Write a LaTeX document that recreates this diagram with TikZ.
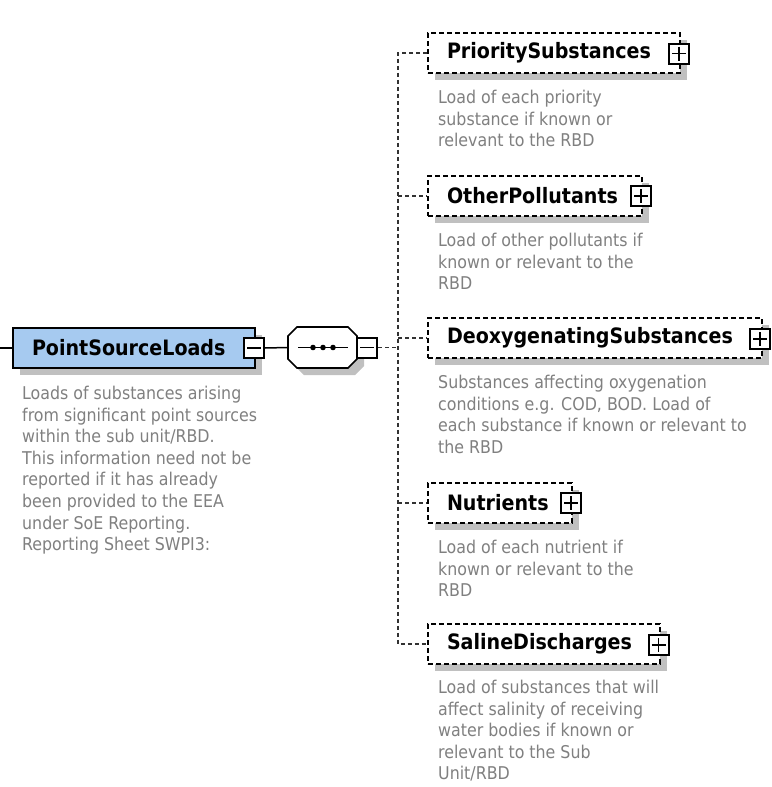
\documentclass[tikz,border=0pt]{standalone}
\usepackage{fontspec}
\newfontfamily\uifont{DejaVu Sans Condensed}
\usetikzlibrary{shadows}
\definecolor{elemblue}{RGB}{166,202,240}
\definecolor{shadowgray}{RGB}{192,192,192}
\definecolor{descgray}{RGB}{128,128,128}
\definecolor{busgray}{RGB}{50,50,50}
\tikzset{
  boxshadow/.style={drop shadow={shadow xshift=7pt,shadow yshift=-7pt,fill=shadowgray,opacity=1}},
  elemtitle/.style={font=\uifont\bfseries\fontsize{21.2}{24}\selectfont, text=black,
    inner xsep=19pt, inner ysep=0pt, minimum height=40pt, align=left},
  mainbox/.style={elemtitle, draw=black, line width=1.6pt, fill=elemblue, boxshadow},
  optbox/.style={elemtitle, draw=black, line width=1.7pt, dash pattern=on 5pt off 3pt,
    fill=white, boxshadow},
  pmbox/.style={draw=black, line width=2pt, solid, fill=white, minimum width=20pt,
    minimum height=20pt, inner sep=0pt},
  minusbox/.style={pmbox, path picture={
    \draw[line width=1.7pt] ([xshift=3pt]path picture bounding box.west) --
      ([xshift=-3pt]path picture bounding box.east);}},
  plusbox/.style={pmbox, path picture={
    \draw[line width=1.7pt] ([xshift=3pt]path picture bounding box.west) --
      ([xshift=-3pt]path picture bounding box.east);
    \draw[line width=1.7pt] ([yshift=-3pt]path picture bounding box.north) --
      ([yshift=3pt]path picture bounding box.south);}},
  seqframe/.style={draw=black, line width=1.6pt, fill=white},
  desc/.style={font=\uifont\fontsize{17.6}{21.6}\selectfont, text=descgray,
    anchor=north west, inner sep=0pt, align=left},
  link/.style={draw=black, line width=1.5pt},
  bus/.style={draw=busgray, line width=1.4pt, dash pattern=on 4pt off 3pt},
}
\begin{document}
\begin{tikzpicture}[x=1pt,y=-1pt]
\useasboundingbox[fill=white] (0,0) rectangle (771,787);

% root element
\coordinate (in) at (0,348);
\node[mainbox, text width=204pt] (psl) at (134,348) {PointSourceLoads};
\node[minusbox] (pslm) at (254,348) {};
\node[desc] (psld) at (22,386) {Loads of substances arising\\from significant point sources\\within the sub unit/RBD.\\This information need not be\\reported if it has already\\been provided to the EEA\\under SoE Reporting.\\Reporting Sheet SWPI3:};

% sequence compositor: octagon with shadow, then the connector mark
\fill[shadowgray, shift={(7,7)}] (297,327) -- (348,327) -- (357,336) -- (357,359)
  -- (348,368) -- (297,368) -- (288,359) -- (288,336) -- cycle;
\path[seqframe] (297,327) -- (348,327) -- (357,336) -- (357,359)
  -- (348,368) -- (297,368) -- (288,359) -- (288,336) -- cycle;
\node[minimum width=69pt, minimum height=41pt, inner sep=0pt] (seq) at (322.5,347.5) {};
\draw[line width=1.5pt] (298,347.5) -- (348,347.5);
\foreach \dx in {313,323,333} \fill (\dx,347.5) circle (2.8);
\node[minusbox] (seqm) at (367,347.5) {};

% child elements (optional)
\node[optbox, text width=214pt] (prio) at (554,53) {PrioritySubstances};
\node[plusbox] (priop) at (679,53.5) {};
\node[desc] (priod) at (438,90) {Load of each priority\\substance if known or\\relevant to the RBD};

\node[optbox, text width=176pt] (oth) at (535,196) {OtherPollutants};
\node[plusbox] (othp) at (641,196) {};
\node[desc] (othd) at (438,233) {Load of other pollutants if\\known or relevant to the\\RBD};

\node[optbox, text width=296pt] (deo) at (595,338) {DeoxygenatingSubstances};
\node[plusbox] (deop) at (760,339) {};
\node[desc] (deod) at (438,375) {Substances affecting oxygenation\\conditions e.g. COD, BOD. Load of\\each substance if known or relevant to\\the RBD};

\node[optbox, text width=106pt] (nut) at (500,503) {Nutrients};
\node[plusbox] (nutp) at (571,503) {};
\node[desc] (nutd) at (438,540) {Load of each nutrient if\\known or relevant to the\\RBD};

\node[optbox, text width=194pt] (sal) at (544,644) {SalineDischarges};
\node[plusbox] (salp) at (658.5,645) {};
\node[desc] (sald) at (438,680) {Load of substances that will\\affect salinity of receiving\\water bodies if known or\\relevant to the Sub\\Unit/RBD};

% connectors
\coordinate (bus) at (398,347.5);
\draw[link] (in) -- (psl.west);
\draw[link] (pslm.east) -- (seq.west);
\draw[bus] (seqm.east) -- (bus);
\draw[bus] (prio.west) -| (bus |- sal.west) -- (sal.west);
\draw[bus] (bus |- oth.west) -- (oth.west);
\draw[bus] (bus |- deo.west) -- (deo.west);
\draw[bus] (bus |- nut.west) -- (nut.west);
\end{tikzpicture}
\end{document}
